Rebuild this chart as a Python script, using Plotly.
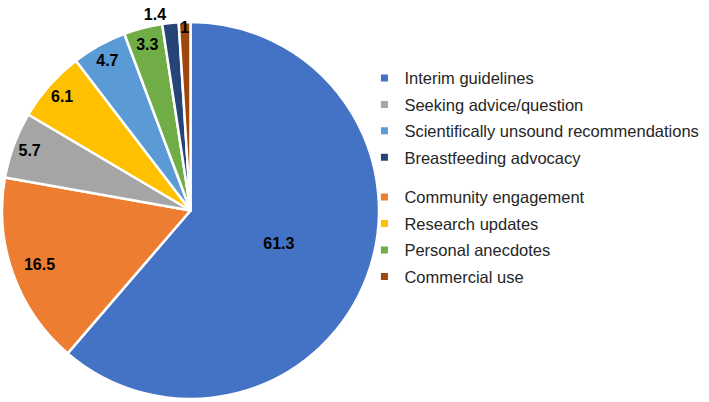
import plotly.graph_objects as go

# slices, clockwise from 12 o'clock
labels = ["Interim guidelines", "Community engagement", "Seeking advice/question",
          "Research updates", "Scientifically unsound recommendations",
          "Personal anecdotes", "Breastfeeding advocacy", "Commercial use"]
values = [61.3, 16.5, 5.7, 6.1, 4.7, 3.3, 1.4, 1]
colors = ["#4472C4", "#ED7D31", "#A5A5A5", "#FFC000", "#5B9BD5",
          "#70AD47", "#264478", "#9E480E"]

# legend order as in the original (two blocks of four)
legend1 = ["Interim guidelines", "Seeking advice/question",
           "Scientifically unsound recommendations", "Breastfeeding advocacy"]
legend2 = ["Community engagement", "Research updates", "Personal anecdotes", "Commercial use"]

col = dict(zip(labels, colors))
dom = dict(x=[0.0028, 0.5346], y=[0.0075, 0.9453])
lblfont = dict(family="Liberation Sans, Arial", size=16, color="black", weight="bold")


def fmt(v, outside=False):
    s = "%g" % v
    if outside:
        # outside label is centred on the slice direction, nudge it right
        s = "\u00a0" * 10 + s
    return s


def label_layer(show, hole, pos="inside", main=False):
    # same pie again (transparent unless main) only to place some value labels
    if isinstance(pos, str):
        pos = [pos] * len(values)
    txt = [fmt(v, p == "outside") if s else "" for v, s, p in zip(values, show, pos)]
    return go.Pie(
        labels=labels, values=values, sort=False, direction="clockwise", rotation=0,
        hole=hole,
        marker=dict(colors=colors if main else ["rgba(0,0,0,0)"] * len(values),
                    line=dict(color="white", width=2.5 if main else 0)),
        text=txt, textinfo="text", textposition=pos,
        insidetextorientation="horizontal", textfont=lblfont,
        showlegend=False, hoverinfo="label+value" if main else "skip",
        domain=dom,
    )


fig = go.Figure()
fig.add_trace(label_layer([1, 0, 0, 0, 0, 0, 0, 0], 0, main=True))
fig.add_trace(label_layer([0, 1, 0, 0, 0, 0, 0, 1], 0.70))
fig.add_trace(label_layer([0, 0, 1, 1, 1, 1, 1, 0], 0.82,
                          pos=["inside"] * 6 + ["outside", "inside"]))

for i, name in enumerate(legend1):
    fig.add_trace(go.Scatter(x=[None], y=[None], mode="markers", name=name,
                             marker=dict(symbol="square", size=7, color=col[name]),
                             legend="legend", legendgroup="a%d" % i))
for i, name in enumerate(legend2):
    fig.add_trace(go.Scatter(x=[None], y=[None], mode="markers", name=name,
                             marker=dict(symbol="square", size=7, color=col[name]),
                             legend="legend2", legendgroup="b%d" % i))

legfont = dict(family="Liberation Sans, Arial", size=16.5, color="#262626")
fig.update_layout(
    width=709, height=402,
    margin=dict(l=0, r=0, t=0, b=0, autoexpand=False),
    paper_bgcolor="white", plot_bgcolor="white",
    xaxis=dict(visible=False), yaxis=dict(visible=False),
    uniformtext=dict(minsize=16, mode="show"),
    legend=dict(x=0.514, y=0.849, xanchor="left", yanchor="top",
                font=legfont, tracegroupgap=2, itemwidth=30, bgcolor="rgba(0,0,0,0)"),
    legend2=dict(x=0.514, y=0.5527, xanchor="left", yanchor="top",
                 font=legfont, tracegroupgap=2, itemwidth=30, bgcolor="rgba(0,0,0,0)"),
)

# the page body has a default 8px margin; drop it so the figure fills the window
fig.write_html("out.html", config={"displayModeBar": False},
               post_script="document.body.style.margin='0';")
